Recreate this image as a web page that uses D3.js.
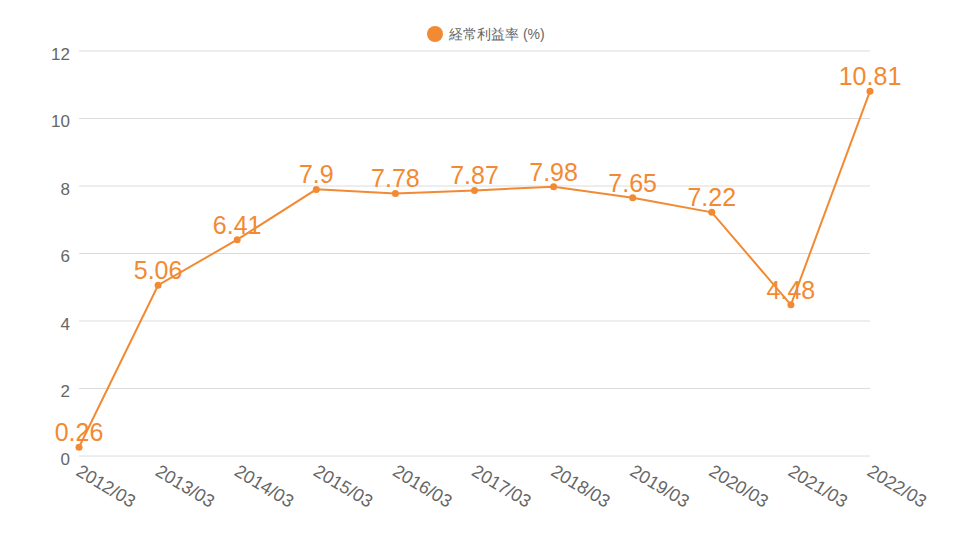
<!DOCTYPE html>
<html><head><meta charset="utf-8">
<script src="https://cdn.jsdelivr.net/npm/d3@7"></script>
<style>body{margin:0;background:#fff;font-family:"Liberation Sans",Arial,sans-serif;}</style>
</head><body><svg id="c" width="960" height="540"></svg>
<script>
const categories = ["2012/03","2013/03","2014/03","2015/03","2016/03","2017/03","2018/03","2019/03","2020/03","2021/03","2022/03"];
const values = [0.26,5.06,6.41,7.9,7.78,7.87,7.98,7.65,7.22,4.48,10.81];
const yTicks = [0,2,4,6,8,10,12];
const seriesName = "経常利益率 (%)";
const color = "#F28A33";

(function(){
const svg = d3.select("#c");
const mL = 79, mR = 870, mT = 51, mB = 456;
const x = d3.scalePoint().domain(categories).range([mL, mR]);
const y = d3.scaleLinear().domain([0,12]).range([mB, mT]);

svg.append("g").selectAll("line").data(yTicks).join("line")
  .attr("x1", mL).attr("x2", mR)
  .attr("y1", d=>y(d)).attr("y2", d=>y(d))
  .attr("stroke", "#dcdcdc").attr("stroke-width", 1);

svg.append("g").selectAll("text").data(yTicks).join("text")
  .attr("x", 70).attr("y", d=>y(d)+3).attr("dy","0.35em")
  .attr("text-anchor","end").attr("fill","#666").attr("font-size",17)
  .text(d=>d);

svg.append("g").selectAll("text").data(categories).join("text")
  .attr("transform", d=>`translate(${x(d)+3},${mB+7}) rotate(31)`)
  .attr("dy","0.75em")
  .attr("fill","#666").attr("font-size",18)
  .text(d=>d);

const line = d3.line().x((d,i)=>x(categories[i])).y(d=>y(d));
svg.append("path").datum(values).attr("d", line)
  .attr("fill","none").attr("stroke",color).attr("stroke-width",2);

svg.append("g").selectAll("circle").data(values).join("circle")
  .attr("cx",(d,i)=>x(categories[i])).attr("cy",d=>y(d)).attr("r",3.5)
  .attr("fill",color);

svg.append("g").selectAll("text").data(values).join("text")
  .attr("x",(d,i)=>x(categories[i])).attr("y",d=>y(d)-6)
  .attr("text-anchor","middle").attr("fill",color).attr("font-size",25)
  .text(d=>d);

const lg = svg.append("g");
lg.append("circle").attr("cx",435).attr("cy",34).attr("r",8).attr("fill",color);
lg.append("text").attr("x",449).attr("y",34).attr("dy","0.35em")
  .attr("fill","#666").attr("font-size",14).text(seriesName);
})();
</script></body></html>
